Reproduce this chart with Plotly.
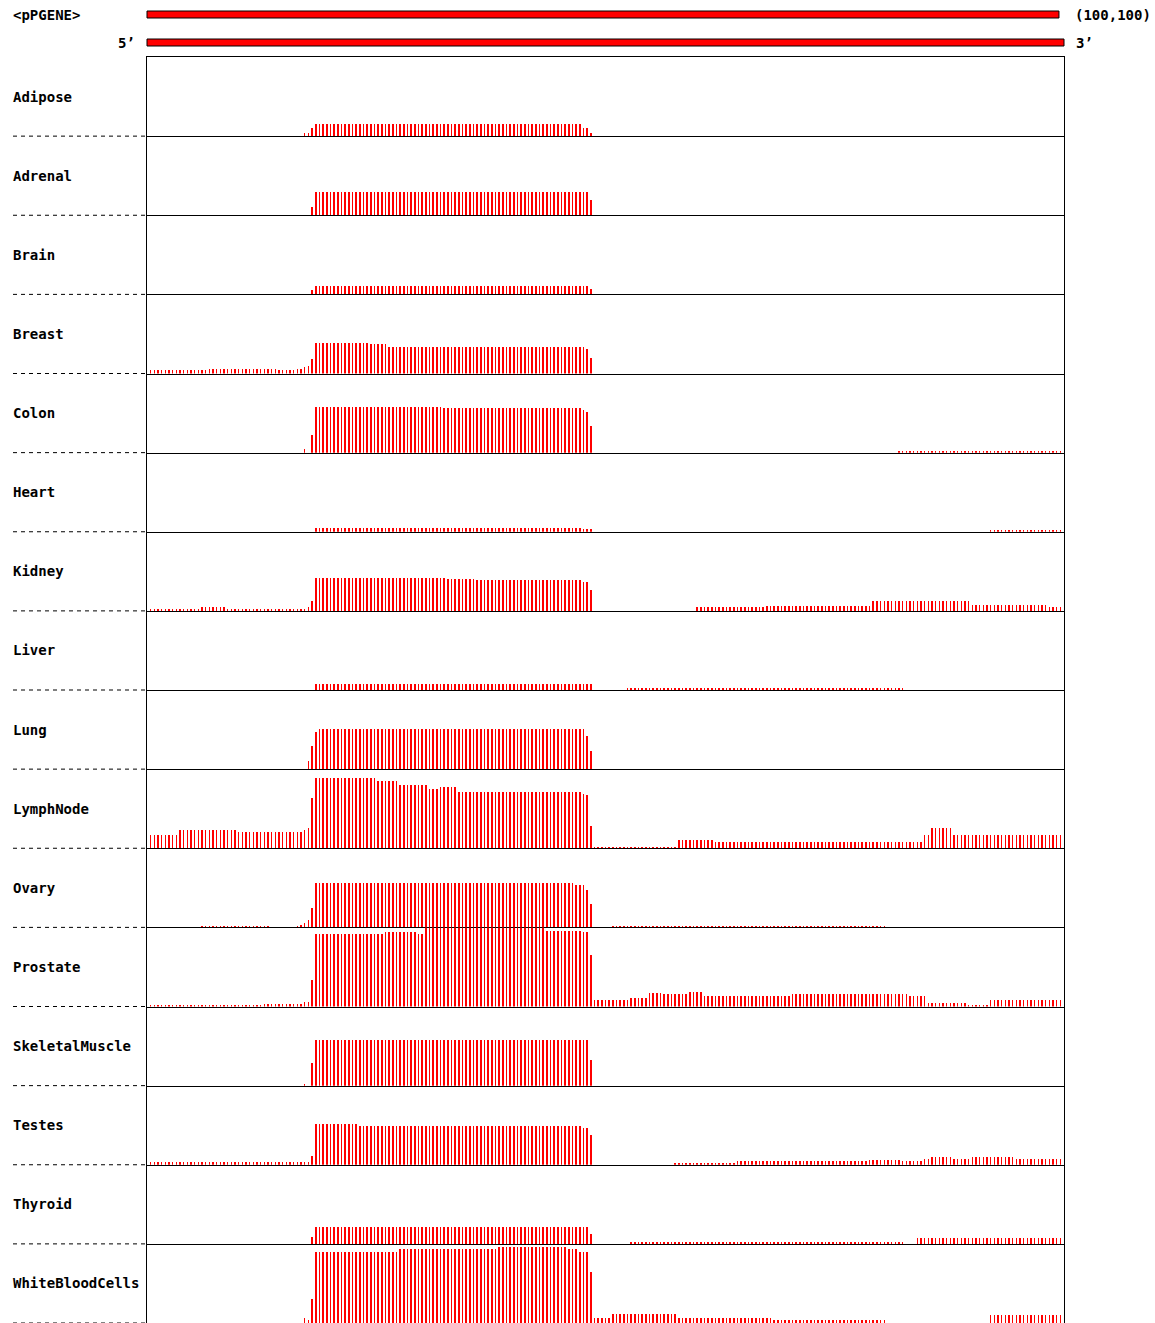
import plotly.graph_objects as go
from plotly.subplots import make_subplots

# ---------------- data ----------------
N_BINS = 250          # positions along the gene (x axis 0..250)
Y_MAX = 100           # each track is scaled 0..100

tissues = ["Adipose", "Adrenal", "Brain", "Breast", "Colon", "Heart", "Kidney",
           "Liver", "Lung", "LymphNode", "Ovary", "Prostate", "SkeletalMuscle",
           "Testes", "Thyroid", "WhiteBloodCells"]

# run-length readings: (first_bin, last_bin, height)
adipose = [(43, 44, 3.4), (45, 45, 9.7), (46, 118, 14.8), (119, 120, 9.7), (121, 121, 3.4)]
adrenal = [(45, 45, 10), (46, 120, 29), (121, 121, 19)]
brain = [(45, 45, 6), (46, 118, 11), (119, 120, 10), (121, 121, 7)]
breast = [(1, 16, 4), (17, 35, 6), (36, 40, 4), (41, 42, 6), (43, 43, 7.6), (44, 44, 9.7),
          (45, 45, 17.7), (46, 60, 38), (61, 65, 37), (66, 115, 34), (116, 119, 33),
          (120, 120, 31), (121, 121, 20)]
colon = [(43, 43, 5), (45, 45, 22), (46, 80, 58), (81, 118, 56), (119, 119, 54),
         (120, 120, 51), (121, 121, 34), (205, 249, 2.2)]
heart = [(46, 118, 5), (119, 121, 4), (230, 249, 2.2)]
kidney = [(1, 2, 3), (3, 14, 2), (15, 21, 4.6), (22, 43, 3), (44, 44, 4.6), (45, 45, 13),
          (46, 81, 42), (82, 89, 40), (90, 118, 38.5), (119, 120, 37), (121, 121, 27),
          (150, 168, 4.6), (169, 197, 5.8), (198, 224, 12), (225, 245, 7.3), (246, 249, 4.6)]
liver = [(46, 121, 7), (131, 206, 2.2)]
lung = [(44, 44, 10), (45, 45, 29), (46, 46, 47), (47, 119, 50.6), (120, 120, 42), (121, 121, 23)]
lymphnode = [(1, 8, 17.3), (9, 24, 23.2), (25, 42, 20.3), (43, 43, 23.2), (44, 44, 25),
             (45, 45, 64), (46, 62, 88.6), (63, 68, 85), (69, 76, 79.7), (77, 79, 74.7),
             (80, 84, 78), (85, 118, 71.7), (119, 119, 69), (120, 120, 67), (121, 121, 28),
             (122, 144, 2.2), (145, 154, 11), (155, 211, 8), (212, 213, 16.9),
             (214, 219, 26), (220, 249, 16.9)]
ovary = [(15, 33, 2.2), (41, 41, 2.2), (42, 42, 2.8), (43, 43, 6), (44, 44, 9), (45, 45, 24),
         (46, 116, 56), (117, 119, 54), (120, 120, 47), (121, 121, 29), (127, 201, 2.2)]
prostate = [(1, 31, 2.2), (32, 42, 3.4), (43, 44, 6.3), (45, 45, 34), (46, 64, 92),
            (65, 73, 93.7), (74, 75, 92), (76, 108, 100), (109, 118, 96), (119, 120, 94),
            (121, 121, 65), (122, 131, 7.6), (132, 136, 11), (137, 140, 17.3),
            (141, 147, 15.6), (148, 151, 18.6), (152, 175, 12.7), (176, 207, 15.2),
            (208, 212, 12.7), (213, 223, 5), (224, 229, 2.2), (230, 249, 7.6)]
skeletalmuscle = [(43, 43, 2.5), (45, 45, 28), (46, 120, 58), (121, 121, 33)]
testes = [(1, 42, 3.2), (43, 44, 3.5), (45, 45, 11), (46, 57, 51), (58, 118, 48.5),
          (119, 120, 46), (121, 121, 38), (144, 160, 2.2), (161, 196, 4.6), (197, 205, 6.3),
          (206, 211, 4.6), (212, 213, 7.6), (214, 219, 9.3), (220, 224, 7.6),
          (225, 236, 9.3), (237, 249, 7.6)]
thyroid = [(45, 45, 9), (46, 120, 21), (121, 121, 12), (132, 206, 2.2), (210, 249, 6.8)]
whitebloodcells = [(43, 43, 6), (44, 44, 4.4), (45, 45, 30.6), (46, 68, 90), (69, 95, 94),
                   (96, 114, 95.5), (115, 117, 94), (118, 120, 90), (121, 121, 64),
                   (122, 126, 5.7), (127, 144, 10.8), (145, 170, 6), (171, 201, 4.4),
                   (230, 249, 9.5)]

tracks = [adipose, adrenal, brain, breast, colon, heart, kidney, liver, lung, lymphnode,
          ovary, prostate, skeletalmuscle, testes, thyroid, whitebloodcells]

gene_label = "<pPGENE>"
gene_range_label = "(100,100)"
gene_span = (0.0, 0.9945)        # fraction of the track width covered by the gene bar
transcript_span = (0.0, 1.0)

# ---------------- layout geometry (page pixels) ----------------
PAGE_W, PAGE_H = 1155, 1323
PLOT_L, PLOT_T, PLOT_R, PLOT_B = 147, 57, 1064, 1323
PW, PH = PLOT_R - PLOT_L, PLOT_B - PLOT_T


def px_x(px):
    return (px - PLOT_L) / PW


def px_y(py):
    return 1 - (py - PLOT_T) / PH


def expand(segs):
    vals = [0.0] * (N_BINS + 1)
    for a, b, v in segs:
        for i in range(a, b + 1):
            vals[i] = v
    return vals


n = len(tissues)
fig = make_subplots(rows=n, cols=1, shared_xaxes=True, vertical_spacing=0)

FONT = "DejaVu Sans Mono"
FSIZE = 14
for k, (name, segs) in enumerate(zip(tissues, tracks)):
    vals = expand(segs)
    xs = [i for i in range(N_BINS + 1) if vals[i] > 0]
    ys = [vals[i] for i in xs]
    fig.add_trace(go.Bar(x=xs, y=ys, width=0.42,
                         marker=dict(color="#ff0000", line=dict(width=0)),
                         showlegend=False, hoverinfo="skip"), row=k + 1, col=1)
    yref = "y domain" if k == 0 else f"y{k + 1} domain"
    fig.add_annotation(text=f"<b>{name}</b>", xref="paper", x=px_x(11), xanchor="left",
                       yref=yref, y=0.5, yanchor="middle", showarrow=False,
                       font=dict(family=FONT, size=FSIZE, color="#000"))
    fig.add_shape(type="line", xref="paper", x0=px_x(13), x1=px_x(145),
                  yref=yref, y0=0, y1=0,
                  line=dict(color="#000", width=1, dash="4px,4px"))

fig.update_xaxes(range=[0, N_BINS], showticklabels=False, showgrid=False, zeroline=False,
                 showline=True, linecolor="#000", linewidth=1, mirror=False, ticks="")
fig.update_xaxes(mirror=True, row=1, col=1)
fig.update_yaxes(range=[0, Y_MAX], showticklabels=False, showgrid=False, zeroline=False,
                 showline=True, linecolor="#000", linewidth=1, mirror=True, ticks="")

# gene / transcript bars at the top
fig.add_shape(type="rect", xref="paper", x0=gene_span[0], x1=gene_span[1],
              yref="paper", y0=px_y(18), y1=px_y(11),
              fillcolor="#ff0000", line=dict(color="#000", width=1))
fig.add_shape(type="rect", xref="paper", x0=transcript_span[0], x1=transcript_span[1],
              yref="paper", y0=px_y(46), y1=px_y(39),
              fillcolor="#ff0000", line=dict(color="#000", width=1))

for txt, x, xa, y in [(gene_label, 11, "left", 15), (gene_range_label, 1153, "right", 15),
                      ("5’", 137, "right", 43), ("3’", 1074, "left", 43)]:
    fig.add_annotation(text=f"<b>{txt.replace('<', '&lt;').replace('>', '&gt;')}</b>",
                       xref="paper", x=px_x(x), xanchor=xa,
                       yref="paper", y=px_y(y), yanchor="middle", showarrow=False,
                       font=dict(family=FONT, size=FSIZE, color="#000"))

fig.update_layout(width=PAGE_W, height=PAGE_H,
                  margin=dict(l=PLOT_L, r=PAGE_W - PLOT_R, t=PLOT_T, b=PAGE_H - PLOT_B),
                  paper_bgcolor="white", plot_bgcolor="white", bargap=0,
                  showlegend=False)

# remove the default page margin so the figure sits at the window's top-left corner
fig.write_html("out.html", config={"staticPlot": True},
               post_script="document.body.style.margin='0';document.body.style.overflow='hidden';")
